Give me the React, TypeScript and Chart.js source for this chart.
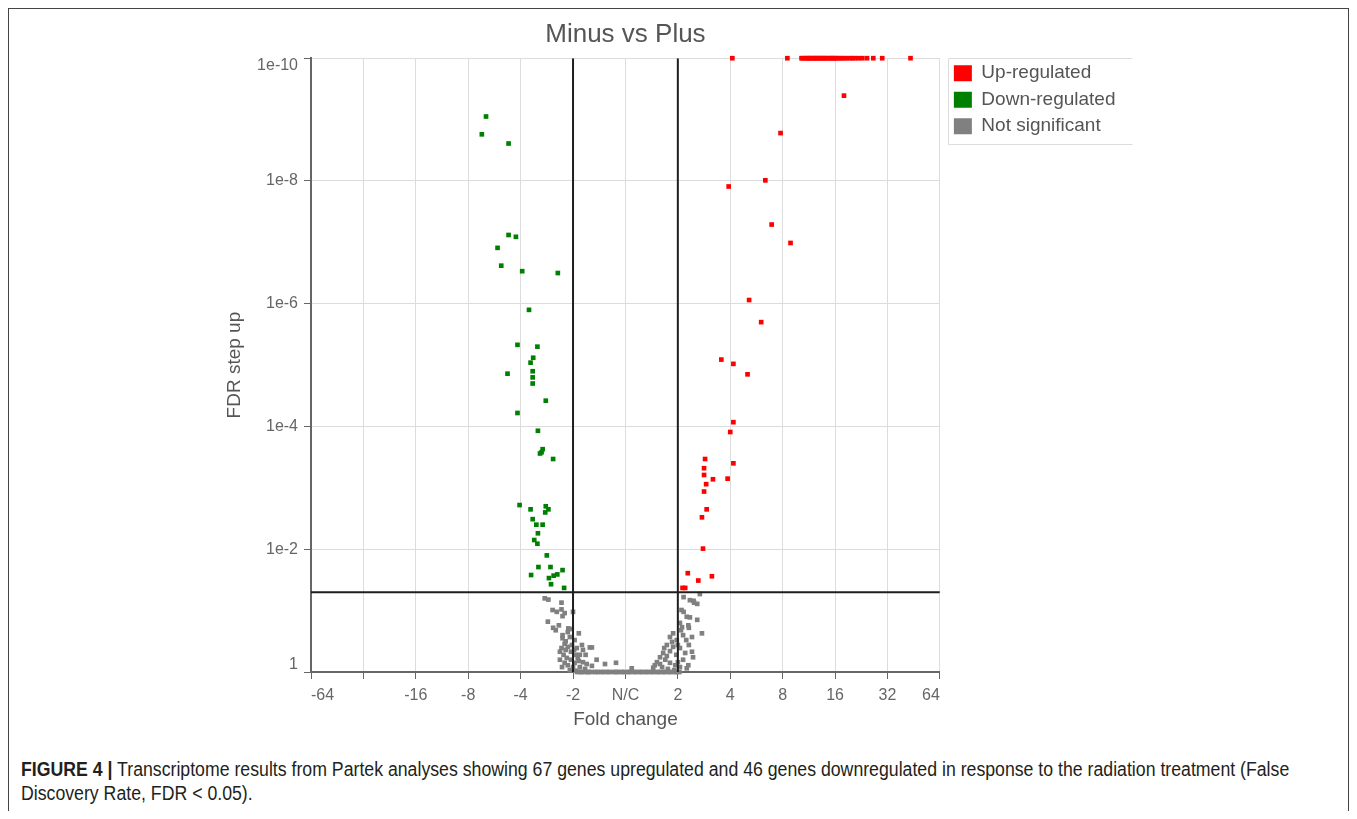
import React, { useEffect, useRef } from 'react';
import { Chart, registerables } from 'chart.js';

Chart.register(...registerables);

// Axis ticks (x: signed log2 fold change, y: -log10 FDR)
const xTickValues = [-6, -5, -4, -3, -2, -1, 0, 1, 2, 3, 4, 5, 6];
const xTickLabels = ['-64', '', '-16', '-8', '-4', '-2', 'N/C', '2', '4', '8', '16', '32', '64'];
const yTickValues = [0, 2, 4, 6, 8, 10];
const yTickLabels = ['1', '1e-2', '1e-4', '1e-6', '1e-8', '1e-10'];

// Cut-offs
const foldChangeCutoffLog2 = 1; // fold change ±2
const fdrCutoff = 0.05;

// Up-regulated: signed log2 fold change and -log10(FDR step up)
const upLog2FC = [
  2.04, 3.09, 3.36, 3.38, 3.43, 3.45, 3.49, 3.52, 3.53, 3.58, 3.61, 3.62, 3.66, 3.7, 3.71, 3.75, 3.79, 3.8, 3.84,
  3.88, 3.91, 3.94, 3.97, 4.0, 4.03, 4.08, 4.12, 4.17, 4.22, 4.28, 4.33, 4.38, 4.45, 4.52, 4.61, 4.73, 4.9, 5.44,
  4.17, 2.96, 2.67, 1.97, 2.79, 3.15, 2.36, 2.59, 1.83, 2.06, 2.33, 2.06, 2.0, 1.52, 2.06, 1.5, 1.5, 1.67, 1.95,
  1.54, 1.5, 1.55, 1.46, 1.48, 1.19, 1.39, 1.65, 1.09, 1.14,
];
const upNegLog10FDR = [
  10, 10, 10, 10, 10, 10, 10, 10, 10, 10, 10, 10, 10, 10, 10, 10, 10, 10, 10,
  10, 10, 10, 10, 10, 10, 10, 10, 10, 10, 10, 10, 10, 10, 10, 10, 10, 10, 10,
  9.39, 8.78, 8.01, 7.91, 7.29, 6.99, 6.06, 5.7, 5.09, 5.02, 4.85, 4.07, 3.91, 3.47, 3.4, 3.32, 3.21, 3.14, 3.15,
  3.06, 2.94, 2.65, 2.52, 2.01, 1.61, 1.49, 1.56, 1.37, 1.37,
];

// Down-regulated
const downLog2FC = [
  -2.66, -2.74, -2.23, -2.23, -2.09, -2.44, -2.37, -1.97, -1.29, -1.84,
  -2.06, -1.68, -1.76, -1.81, -2.25, -1.77, -1.77, -1.77, -1.52, -2.06,
  -1.67, -1.58, -1.6, -1.63, -1.38, -2.02, -1.52, -1.47, -1.53, -1.81,
  -1.77, -1.7, -1.58, -1.67, -1.74, -1.68, -1.5, -1.66, -1.43, -1.2,
  -1.8, -1.37, -1.3, -1.46, -1.42, -1.17,
];
const downNegLog10FDR = [
  9.05, 8.76, 8.61, 7.12, 7.09, 6.91, 6.62, 6.53, 6.5, 5.9,
  5.33, 5.3, 5.12, 5.04, 4.86, 4.9, 4.8, 4.7, 4.42, 4.22,
  3.93, 3.63, 3.58, 3.56, 3.47, 2.72, 2.7, 2.65, 2.6, 2.65,
  2.49, 2.4, 2.4, 2.26, 2.15, 2.09, 1.9, 1.71, 1.71, 1.66,
  1.58, 1.57, 1.59, 1.53, 1.43, 1.37,
];

// Not significant
const nsLog2FC = [
  -1.54, -1.47, -1.22, -1.39, -1.31, -1.22, -1.16, -1.2, -1.0, -1.48, -1.38, -1.33, -1.27, -1.06, -0.89, -1.2,
  -1.14, -1.06, -1.16, -1.1, -1.02, -0.98, -0.95, -0.91, -1.22, -0.68, -0.64, -0.81, -0.87, -0.89, -0.81, -0.74,
  -0.64, -0.55, -0.39, -0.18, 0.12, -1.16, -1.1, -1.0, -1.18, -1.12, -1.04, -0.97, -0.87, -0.77, -1.06, -0.95,
  -1.25, -1.2, -1.1, -0.97, -1.04, -1.14, -0.93, -0.83, -0.76, -1.25, -1.21, -1.09,
  -0.92, -0.86, -0.83, -0.77, -0.72, -0.7, -0.64, -0.57, -0.53, -0.46, -0.42, -0.35, -0.31, -0.23, -0.18, -0.14,
  -0.07, -0.03, 0.05, 0.08, 0.16, 0.2, 0.27, 0.31, 0.38, 0.42, 0.49, 0.53, 0.61, 0.64, 0.72, 0.75, 0.83, 0.86,
  0.94, 0.97, 1.03,
  1.42, 1.23, 1.31, 1.37, 1.07, 1.11, 1.17, 1.23, 1.37, 1.04, 1.08, 1.2, 1.21, 1.46, 0.91, 0.85, 0.98, 1.1, 1.27,
  0.79, 0.91, 1.04, 1.14, 1.27, 1.29, 0.72, 0.66, 0.6, 0.56, 0.53, 1.2, 1.17, 0.76, 0.85, 0.95, 1.04, 0.7, 0.81,
  0.93, 1.0, 1.1, 0.97, 0.85, 0.74, 1.11, 1.3, 0.89, 1.0, 1.16, 0.79, 0.66, 1.21, 1.06,
];
const nsNegLog10FDR = [
  1.2, 1.18, 1.13, 1.01, 0.98, 1.02, 0.96, 0.91, 0.98, 0.82, 0.72, 0.68, 0.76, 0.7, 0.63, 0.55,
  0.5, 0.57, 0.46, 0.41, 0.44, 0.36, 0.28, 0.23, 0.39, 0.4, 0.4, 0.36, 0.28, 0.18, 0.16, 0.13,
  0.1, 0.2, 0.13, 0.15, 0.06, 0.15, 0.11, 0.08, 0.28, 0.23, 0.2, 0.15, 0.08, 0.05, 0.03, 0.02,
  0.33, 0.6, 0.65, 0.52, 0.33, 0.36, 0.39, 0.44, 0.28, 0.2, 0.08, 0.71,
  0, 0, 0, 0, 0, 0, 0, 0, 0, 0, 0, 0, 0, 0, 0, 0,
  0, 0, 0, 0, 0, 0, 0, 0, 0, 0, 0, 0, 0, 0, 0, 0, 0, 0,
  0, 0, 0,
  1.27, 1.17, 1.13, 1.11, 1.01, 0.98, 0.9, 0.89, 0.85, 0.8, 0.73, 0.76, 0.72, 0.63, 0.63, 0.57, 0.52, 0.6, 0.57,
  0.44, 0.41, 0.39, 0.31, 0.33, 0.24, 0.31, 0.24, 0.16, 0.11, 0.07, 0.11, 0.06, 0.2, 0.15, 0.11, 0.08, 0.08, 0.05,
  0.03, 0.16, 0.2, 0.28, 0.34, 0.39, 1.22, 1.16, 0.49, 0.44, 0.52, 0.26, 0.13, 0.44, 0.68,
];

const toPoints = (xs: number[], ys: number[]) => xs.map((x, i) => ({ x, y: ys[i] }));

const legendShift = {
  id: 'legendShift',
  afterLayout(chart: any) {
    const lg = chart.legend;
    if (lg) {
      lg.left += 6.5;
      lg.right += 6.5;
      lg.top -= 2;
      lg.bottom -= 2;
    }
  },
};

const legendFrame = {
  id: 'legendFrame',
  afterDraw(chart: any) {
    const lg = chart.legend;
    if (!lg) return;
    const ctx = chart.ctx;
    const pad = lg.options.labels.padding;
    const left = Math.round(lg.left + pad - 6) + 0.5;
    const top = Math.round(chart.chartArea.top) + 0.5;
    const bottom = top + 86;
    const right = left + 184;
    ctx.save();
    ctx.strokeStyle = '#dcdcdc';
    ctx.lineWidth = 1;
    ctx.beginPath();
    ctx.moveTo(right, top);
    ctx.lineTo(left, top);
    ctx.lineTo(left, bottom);
    ctx.lineTo(right, bottom);
    ctx.stroke();
    ctx.restore();
  },
};

export default function App() {
  const ref = useRef<HTMLCanvasElement>(null);

  useEffect(() => {
    Chart.defaults.font.family = "'Liberation Sans', Arial, sans-serif";
    const fdrLine = -Math.log10(fdrCutoff);
    const lineStyle = {
      type: 'line' as const,
      showLine: true,
      pointRadius: 0,
      borderColor: '#1e1e1e',
      borderWidth: 2,
      order: -1,
    };
    const chart = new Chart(ref.current as HTMLCanvasElement, {
      type: 'scatter',
      data: {
        datasets: [
          {
            label: 'Up-regulated',
            data: toPoints(upLog2FC, upNegLog10FDR),
            backgroundColor: '#ff0000',
            borderColor: '#ff0000',
            borderWidth: 0,
            pointStyle: 'rect',
            pointRadius: 3.3,
            clip: false,
          },
          {
            label: 'Down-regulated',
            data: toPoints(downLog2FC, downNegLog10FDR),
            backgroundColor: '#008000',
            borderColor: '#008000',
            borderWidth: 0,
            pointStyle: 'rect',
            pointRadius: 3.3,
            clip: false,
          },
          {
            label: 'Not significant',
            data: toPoints(nsLog2FC, nsNegLog10FDR),
            backgroundColor: '#808080',
            borderColor: '#808080',
            borderWidth: 0,
            pointStyle: 'rect',
            pointRadius: 3.3,
            clip: false,
          },
          {
            ...lineStyle,
            label: 'lowFC',
            data: [
              { x: -foldChangeCutoffLog2, y: 0 },
              { x: -foldChangeCutoffLog2, y: 10 },
            ],
          },
          {
            ...lineStyle,
            label: 'highFC',
            data: [
              { x: foldChangeCutoffLog2, y: 0 },
              { x: foldChangeCutoffLog2, y: 10 },
            ],
          },
          {
            ...lineStyle,
            label: 'fdr',
            data: [
              { x: -6, y: fdrLine },
              { x: 6, y: fdrLine },
            ],
          },
        ] as any,
      },
      options: {
        animation: false,
        responsive: false,
        events: [],
        layout: { padding: { left: 210, right: 30, top: 0, bottom: 0 } },
        scales: {
          x: {
            type: 'linear',
            min: -6,
            max: 6,
            afterBuildTicks: (scale: any) => {
              scale.ticks = xTickValues.map((v) => ({ value: v }));
            },
            ticks: {
              autoSkip: false,
              maxRotation: 0,
              align: 'inner',
              padding: 7,
              color: '#666',
              font: { size: 16 },
              callback: (value: any) => xTickLabels[xTickValues.indexOf(Number(value))],
            },
            grid: { color: '#dcdcdc', lineWidth: 1, tickColor: '#666', tickLength: 7 },
            border: { color: '#666', width: 2 },
            title: {
              display: true,
              text: 'Fold change',
              color: '#555',
              font: { size: 19 },
              padding: { top: -4, bottom: 4 },
            },
          },
          y: {
            type: 'linear',
            min: 0,
            max: 10,
            afterBuildTicks: (scale: any) => {
              scale.ticks = yTickValues.map((v) => ({ value: v }));
            },
            afterFit: (scale: any) => {
              scale.width = 92;
            },
            ticks: {
              autoSkip: false,
              padding: 6,
              color: '#666',
              font: { size: 16, lineHeight: 0.95 },
              callback: (value: any) => {
                const i = yTickValues.indexOf(Number(value));
                const label = yTickLabels[i];
                if (i === yTickValues.length - 1) return ['', label];
                if (i === 0) return [label, ''];
                return label;
              },
            },
            grid: { color: '#dcdcdc', lineWidth: 1, tickColor: '#666', tickLength: 7 },
            border: { color: '#666', width: 2 },
            title: {
              display: true,
              text: 'FDR step up',
              color: '#555',
              font: { size: 19 },
              padding: { top: 4, bottom: 4 },
            },
          },
        },
        plugins: {
          title: {
            display: true,
            text: 'Minus vs Plus',
            color: '#555',
            fullSize: false,
            font: { size: 26, weight: 'normal' },
            padding: { top: 10, bottom: 8 },
          },
          legend: {
            display: true,
            position: 'right',
            align: 'start',
            fullSize: false,
            labels: {
              boxWidth: 18,
              boxHeight: 16,
              padding: 7.5,
              color: '#555',
              font: { size: 19 },
              filter: (item: any) => item.datasetIndex < 3,
            },
          },
          tooltip: { enabled: false },
        },
      } as any,
      plugins: [legendShift, legendFrame],
    });
    return () => chart.destroy();
  }, []);

  return (
    <div
      style={{
        position: 'relative',
        width: 1341,
        height: 803,
        boxSizing: 'border-box',
        borderTop: '1px solid #444',
        borderLeft: '1px solid #444',
        borderRight: '1px solid #444',
      }}
    >
      <canvas
        ref={ref}
        width={1140}
        height={726}
        style={{ position: 'absolute', left: 0, top: 0, width: 1140, height: 726 }}
      />
      <div
        style={{
          position: 'absolute',
          left: 12,
          top: 748,
          fontFamily: "'Liberation Sans', Arial, sans-serif",
          fontSize: 20,
          lineHeight: '24px',
          color: '#231f20',
          whiteSpace: 'nowrap',
          transform: 'scaleX(0.885)',
          transformOrigin: 'left top',
        }}
      >
        <b>FIGURE 4 |</b> Transcriptome results from Partek analyses showing 67 genes upregulated and 46 genes
        downregulated in response to the radiation treatment (False
        <br />
        Discovery Rate, FDR &lt; 0.05).
      </div>
    </div>
  );
}
